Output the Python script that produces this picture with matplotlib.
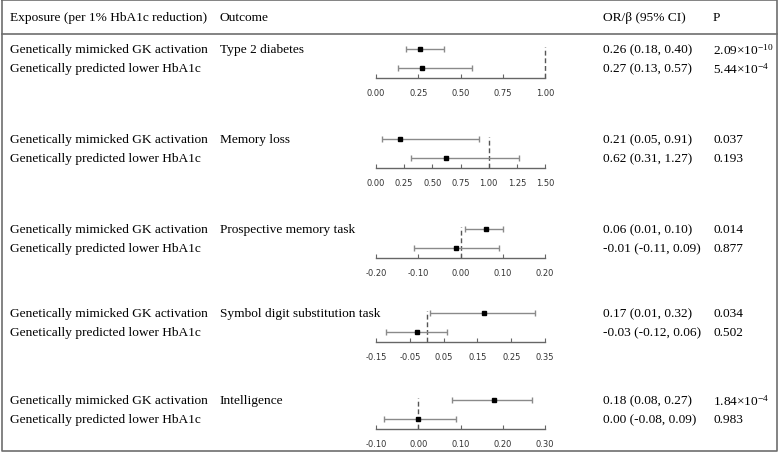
import numpy as np
import matplotlib
matplotlib.use("Agg")
import matplotlib.pyplot as plt
from matplotlib.transforms import blended_transform_factory
from matplotlib.lines import Line2D

plt.rcParams['font.family'] = ['Liberation Serif', 'DejaVu Serif']
plt.rcParams['mathtext.fontset'] = 'custom'
plt.rcParams['mathtext.rm'] = 'Liberation Serif'

# data
exposures = ["Genetically mimicked GK activation", "Genetically predicted lower HbA1c"]
outcomes = ["Type 2 diabetes", "Memory loss", "Prospective memory task",
            "Symbol digit substitution task", "Intelligence"]
est_gk = [0.26, 0.21, 0.06, 0.17, 0.18]
lo_gk = [0.18, 0.05, 0.01, 0.01, 0.08]
hi_gk = [0.40, 0.91, 0.10, 0.32, 0.27]
est_hb = [0.27, 0.62, -0.01, -0.03, 0.00]
lo_hb = [0.13, 0.31, -0.11, -0.12, -0.08]
hi_hb = [0.57, 1.27, 0.09, 0.06, 0.09]
p_gk = [r"$\mathregular{2.09{\times}10^{-10}}$", "0.037", "0.014", "0.034",
        r"$\mathregular{1.84{\times}10^{-4}}$"]
p_hb = [r"$\mathregular{5.44{\times}10^{-4}}$", "0.193", "0.877", "0.502", "0.983"]
null_vals = [1, 1, 0, 0, 0]
tick_sets = [
    [0.00, 0.25, 0.50, 0.75, 1.00],
    [0.00, 0.25, 0.50, 0.75, 1.00, 1.25, 1.50],
    [-0.20, -0.10, 0.00, 0.10, 0.20],
    [-0.15, -0.05, 0.05, 0.15, 0.25, 0.35],
    [-0.10, 0.00, 0.10, 0.20, 0.30],
]

W, H = 779, 456
fig = plt.figure(figsize=(W / 100, H / 100), dpi=100)

def fx(px):
    return px / W

def fy(py):
    return 1 - py / H

# frame and header line
frame_col = '#6e6e6e'
fig.add_artist(Line2D([fx(2), fx(777), fx(777), fx(2), fx(2)],
                      [fy(1), fy(1), fy(452), fy(452), fy(1)],
                      color=frame_col, lw=1.2))
fig.add_artist(Line2D([fx(2), fx(777)], [fy(35), fy(35)], color=frame_col, lw=1.2))

fs = 9.6
col_x = [10, 220, 603, 713]
headers = ["Exposure (per 1% HbA1c reduction)", "Outcome", "OR/β (95% CI)", "P"]
for x, h in zip(col_x, headers):
    fig.text(fx(x), fy(18), h, fontsize=fs, va='center', ha='left')

axis_px = [79, 169, 259, 343, 430]
unit = 19.0
ybot, ytop = -0.53, 1.4
ax_left, ax_right = 376, 545

for i in range(5):
    h_px = (ytop - ybot) * unit
    ax = fig.add_axes([fx(ax_left), fy(axis_px[i]), fx(ax_right - ax_left), h_px / H])
    ests = np.array([est_gk[i], est_hb[i]])
    los = np.array([lo_gk[i], lo_hb[i]])
    his = np.array([hi_gk[i], hi_hb[i]])
    rows = np.array([1, 0])
    ax.vlines(null_vals[i], ybot, 1.1, colors='#555555', linestyles=(0, (3.5, 2)),
              lw=1, clip_on=False)
    ax.errorbar(ests, rows, xerr=[ests - los, his - ests], fmt='s', color='black',
                ecolor='#8a8a8a', elinewidth=1, capsize=2, capthick=1, markersize=3.3)
    ticks = tick_sets[i]
    ax.set_xlim(ticks[0], ticks[-1])
    ax.set_ylim(ybot, ytop)
    ax.set_xticks(ticks)
    ax.set_xticklabels(["%.2f" % t for t in ticks], fontfamily='DejaVu Sans',
                       fontsize=6, color='#333333')
    ax.set_yticks([])
    for s in ['top', 'left', 'right']:
        ax.spines[s].set_visible(False)
    ax.spines['bottom'].set_color('#666666')
    ax.spines['bottom'].set_linewidth(1)
    ax.tick_params(axis='x', direction='in', length=3, width=0.8, color='#666666', pad=7.5)
    ax.patch.set_alpha(0)

    tr = blended_transform_factory(fig.transFigure, ax.transData)
    ax.text(fx(col_x[0]), 1, exposures[0], transform=tr, fontsize=fs, va='center', clip_on=False)
    ax.text(fx(col_x[0]), 0, exposures[1], transform=tr, fontsize=fs, va='center', clip_on=False)
    ax.text(fx(col_x[1]), 1, outcomes[i], transform=tr, fontsize=fs, va='center', clip_on=False)
    ax.text(fx(col_x[2]), 1, "%.2f (%.2f, %.2f)" % (est_gk[i], lo_gk[i], hi_gk[i]),
            transform=tr, fontsize=fs, va='center', clip_on=False)
    ax.text(fx(col_x[2]), 0, "%.2f (%.2f, %.2f)" % (est_hb[i], lo_hb[i], hi_hb[i]),
            transform=tr, fontsize=fs, va='center', clip_on=False)
    ax.text(fx(col_x[3]), 1, p_gk[i], transform=tr, fontsize=fs, va='center', clip_on=False)
    ax.text(fx(col_x[3]), 0, p_hb[i], transform=tr, fontsize=fs, va='center', clip_on=False)

fig.savefig("out.png", dpi=100)
